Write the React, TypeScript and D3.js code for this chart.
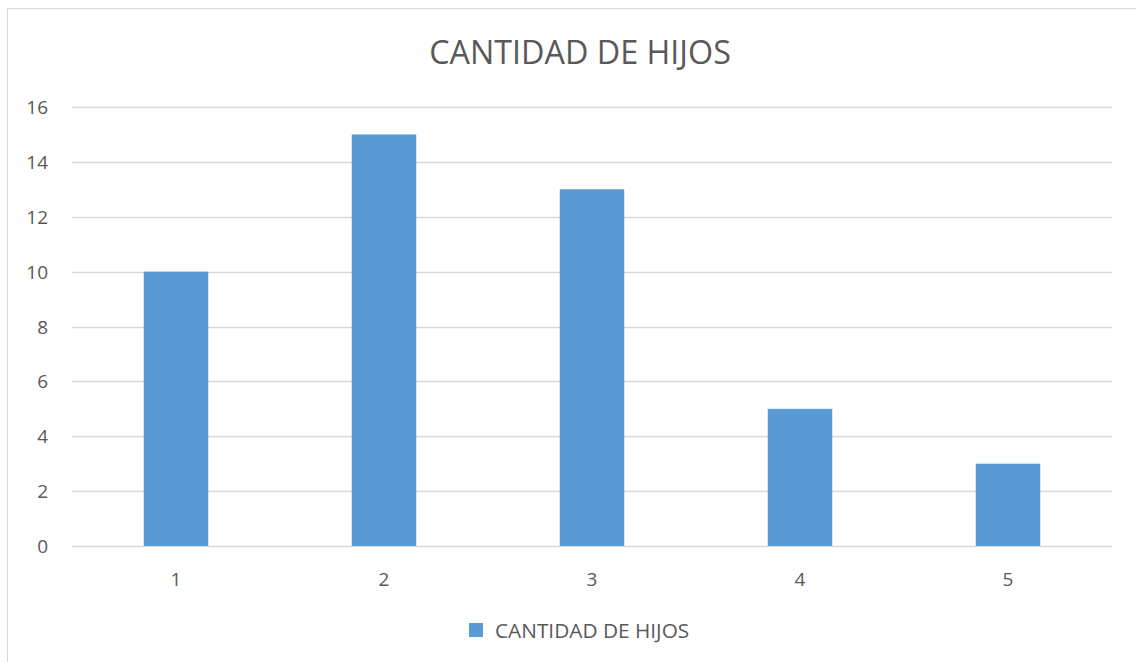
import * as d3 from 'd3';
import React from 'react';

const categories = ['1', '2', '3', '4', '5'];
const values = [10, 15, 13, 5, 3];
const yTicks = [0, 2, 4, 6, 8, 10, 12, 14, 16];
const title = 'CANTIDAD DE HIJOS';
const seriesName = 'CANTIDAD DE HIJOS';

export default function App() {
  const width = 1136;
  const height = 662;
  const left = 72;
  const right = 1112;
  const top = 107;
  const bottom = 546;
  const font = "'Open Sans', 'Noto Sans', sans-serif";
  const textColor = '#595959';
  const gridColor = '#d9d9d9';
  const barColor = '#5b9bd5';

  const x = d3.scaleBand().domain(categories).range([left, right]).paddingInner(0.69).paddingOuter(0.345);
  const y = d3.scaleLinear().domain([0, 16]).range([bottom, top]);

  return (
    <svg
      width={width}
      height={height}
      style={{ position: 'absolute', left: 0, top: 0, background: '#fff' }}
    >
      <rect x={7.5} y={8.5} width={width} height={height} fill="#fff" stroke={gridColor} />
      <text x={580} y={64} textAnchor="middle" fontFamily={font} fontSize={32.3} fill={textColor}>
        {title}
      </text>
      <g>
        {yTicks.map(t => (
          <g key={t}>
            <line x1={left} x2={right} y1={Math.round(y(t)) + 0.5} y2={Math.round(y(t)) + 0.5} stroke={gridColor} strokeWidth={1.5} />
            <text x={48} y={y(t) + 7} textAnchor="end" fontFamily={font} fontSize={19} fill={textColor}>
              {t}
            </text>
          </g>
        ))}
      </g>
      <g>
        {values.map((v, i) => (
          <rect
            key={categories[i]}
            x={x(categories[i])}
            y={y(v)}
            width={x.bandwidth()}
            height={y(0) - y(v)}
            fill={barColor}
          />
        ))}
      </g>
      <g>
        {categories.map(c => (
          <text
            key={c}
            x={(x(c) ?? 0) + x.bandwidth() / 2}
            y={586}
            textAnchor="middle"
            fontFamily={font}
            fontSize={19}
            fill={textColor}
          >
            {c}
          </text>
        ))}
      </g>
      <g>
        <rect x={469} y={623} width={14} height={14} fill={barColor} />
        <text x={495} y={638} fontFamily={font} fontSize={20.8} fill={textColor}>
          {seriesName}
        </text>
      </g>
    </svg>
  );
}
